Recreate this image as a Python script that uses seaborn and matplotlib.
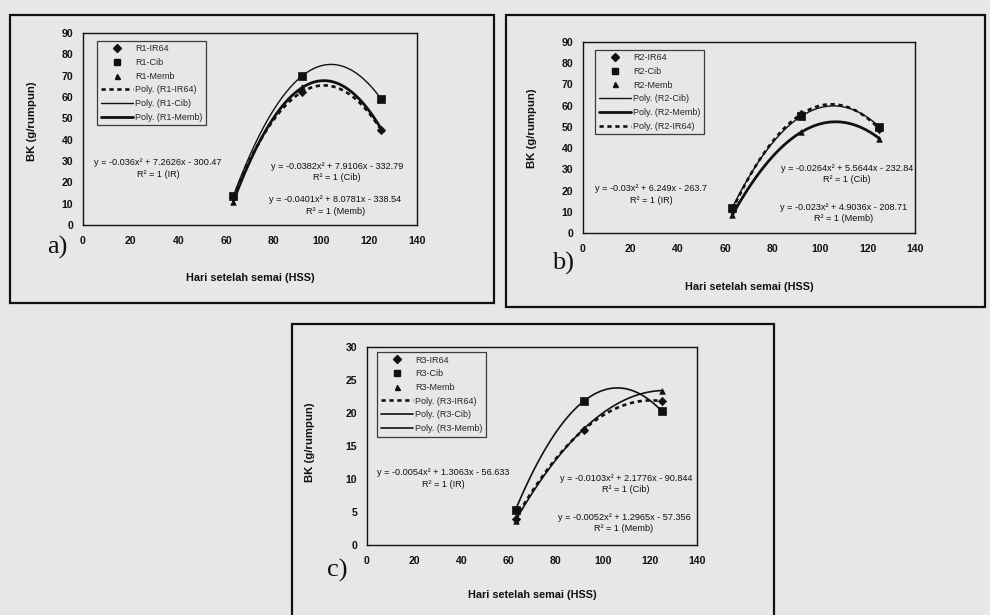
import numpy as np
import pandas as pd
import matplotlib
matplotlib.use("Agg")
import matplotlib.pyplot as plt
import seaborn as sns
from matplotlib.lines import Line2D
from matplotlib.patches import Rectangle

# ---------------- data ----------------
days = [63, 92, 125]

r1_ir64 = [13.0, 62.5, 44.5]
r1_cib = [13.5, 70.0, 59.0]
r1_memb = [11.0, 64.5, 45.0]

r2_ir64 = [11.0, 56.0, 49.0]
r2_cib = [12.0, 55.0, 50.0]
r2_memb = [8.5, 47.5, 44.5]

r3_ir64 = [4.0, 17.5, 21.8]
r3_cib = [5.3, 21.8, 20.3]
r3_memb = [3.7, 17.6, 23.4]

eq_a = ["y = -0.036x² + 7.2626x - 300.47\nR² = 1 (IR)",
        "y = -0.0382x² + 7.9106x - 332.79\nR² = 1 (Cib)",
        "y = -0.0401x² + 8.0781x - 338.54\nR² = 1 (Memb)"]
eq_b = ["y = -0.03x² + 6.249x - 263.7\nR² = 1 (IR)",
        "y = -0.0264x² + 5.5644x - 232.84\nR² = 1 (Cib)",
        "y = -0.023x² + 4.9036x - 208.71\nR² = 1 (Memb)"]
eq_c = ["y = -0.0054x² + 1.3063x - 56.633\nR² = 1 (IR)",
        "y = -0.0103x² + 2.1776x - 90.844\nR² = 1 (Cib)",
        "y = -0.0052x² + 1.2965x - 57.356\nR² = 1 (Memb)"]

x_label = "Hari setelah semai (HSS)"
y_label = "BK (g/rumpun)"

# ---------------- style ----------------
sns.set_theme(style="white")
plt.rcParams["font.family"] = ["Liberation Sans", "DejaVu Sans"]
paper = "#e9e7e6"

fig = plt.figure(figsize=(9.9, 6.15), dpi=100, facecolor=paper)
W, H = 990, 615


def fx(px):
    return px / W


def fy(py):
    return 1 - py / H


def rect_ax(l, t, r, b):
    return fig.add_axes([fx(l), fy(b), fx(r - l), (b - t) / H])


# outer panel boxes
for (l, t, r, b) in [(10, 15, 494, 303), (506, 15, 985, 307), (292, 324, 774, 640)]:
    fig.patches.append(Rectangle((fx(l), fy(b)), fx(r - l), (b - t) / H,
                                 transform=fig.transFigure, fill=False,
                                 edgecolor="#111111", lw=1.6))

IR_STYLE = dict(color="#111111", lw=1.9, ls=(0, (1.6, 1.4)))
CIB_STYLE = dict(color="#111111", lw=1.0, ls="-")
MEMB_STYLE = dict(color="#111111", lw=2.0, ls="-")


def panel(ax, prefix, ir, cib, memb, ymax, ystep, eqs, eqpos, legend_order,
          leg_anchor, styles, ylab_xy, xlab_y):
    df = pd.DataFrame({"x": days, "ir": ir, "cib": cib, "memb": memb})
    series = {"IR64": ("ir", "D", 18), "Cib": ("cib", "s", 26), "Memb": ("memb", "^", 16)}
    for name, (col, mk, sz) in series.items():
        sns.regplot(data=df, x="x", y=col, order=2, ci=None, scatter=False,
                    truncate=True, ax=ax, line_kws=styles[name])
    for name, (col, mk, sz) in series.items():
        sns.scatterplot(data=df, x="x", y=col, marker=mk, s=sz, color="#111111",
                        edgecolor="#111111", linewidth=0.5, ax=ax, zorder=5, legend=False)
    ax.set_xlim(0, 140)
    ax.set_ylim(0, ymax)
    ax.set_xticks(np.arange(0, 141, 20))
    ax.set_yticks(np.arange(0, ymax + 0.1, ystep))
    ax.set_facecolor("none")
    for s in ax.spines.values():
        s.set_visible(True)
        s.set_color("#111111")
        s.set_linewidth(1.0)
    ax.tick_params(axis="both", direction="inout", length=4, width=0.8,
                   labelsize=7.6, colors="#111111", pad=6)
    ax.tick_params(axis="y", pad=5)
    for lab in ax.get_xticklabels() + ax.get_yticklabels():
        lab.set_fontweight("bold")
    ax.set_xlabel(x_label, fontsize=7.8, fontweight="bold", color="#111111")
    ax.set_ylabel(y_label, fontsize=8.2, fontweight="bold", color="#111111")
    ax.yaxis.set_label_coords(*ylab_xy)
    ax.xaxis.set_label_coords(0.5, xlab_y)
    for txt, (ex, ey) in zip(eqs, eqpos):
        ax.text(ex, ey, txt, ha="center", va="center", fontsize=6.6,
                linespacing=1.35, color="#111111")
    # legend
    handles = [
        Line2D([], [], marker="D", ls="none", color="#111111", ms=3.8),
        Line2D([], [], marker="s", ls="none", color="#111111", ms=4.4),
        Line2D([], [], marker="^", ls="none", color="#111111", ms=3.6),
    ]
    labels = [f"{prefix}-IR64", f"{prefix}-Cib", f"{prefix}-Memb"]
    for name in legend_order:
        handles.append(Line2D([], [], **styles[name]))
        labels.append(f"Poly. ({prefix}-{name})")
    leg = ax.legend(handles, labels, loc="upper left", bbox_to_anchor=leg_anchor,
                    fontsize=6.5, frameon=True, fancybox=False, borderaxespad=0,
                    labelspacing=0.52, handlelength=3.6, handletextpad=0.2,
                    borderpad=0.4)
    fr = leg.get_frame()
    fr.set_edgecolor("#111111")
    fr.set_linewidth(0.9)
    fr.set_facecolor("none")
    return ax


ax_a = rect_ax(83, 33, 417, 225)
panel(ax_a, "R1", r1_ir64, r1_cib, r1_memb, 90, 10, eq_a,
      [(31.5, 26.5), (106.4, 24.9), (105.7, 9.1)],
      ["IR64", "Cib", "Memb"], (0.042, 0.96),
      {"IR64": IR_STYLE, "Cib": CIB_STYLE, "Memb": MEMB_STYLE},
      (-0.138, 0.54), -0.25)

ax_b = rect_ax(583, 42, 915, 233)
panel(ax_b, "R2", r2_ir64, r2_cib, r2_memb, 90, 10, eq_b,
      [(28.8, 18.1), (111.2, 27.9), (109.7, 9.3)],
      ["Cib", "Memb", "IR64"], (0.036, 0.96),
      {"IR64": IR_STYLE, "Cib": CIB_STYLE, "Memb": MEMB_STYLE},
      (-0.139, 0.55), -0.257)

ax_c = rect_ax(367, 347, 697, 545)
panel(ax_c, "R3", r3_ir64, r3_cib, r3_memb, 30, 5, eq_c,
      [(32.4, 10.1), (109.8, 9.25), (109.0, 3.35)],
      ["IR64", "Cib", "Memb"], (0.03, 0.975),
      {"IR64": IR_STYLE, "Cib": dict(color="#111111", lw=1.2, ls="-"),
       "Memb": dict(color="#111111", lw=1.2, ls="-")},
      (-0.158, 0.52), -0.227)

# panel letters
for txt, (px, py) in [("a)", (57, 247)), ("b)", (563, 263)), ("c)", (337, 570))]:
    fig.text(fx(px), fy(py), txt, ha="center", va="center", fontsize=19,
             family=["Liberation Serif", "DejaVu Serif"], color="#111111")

fig.savefig("out.png", dpi=100, facecolor=paper)
